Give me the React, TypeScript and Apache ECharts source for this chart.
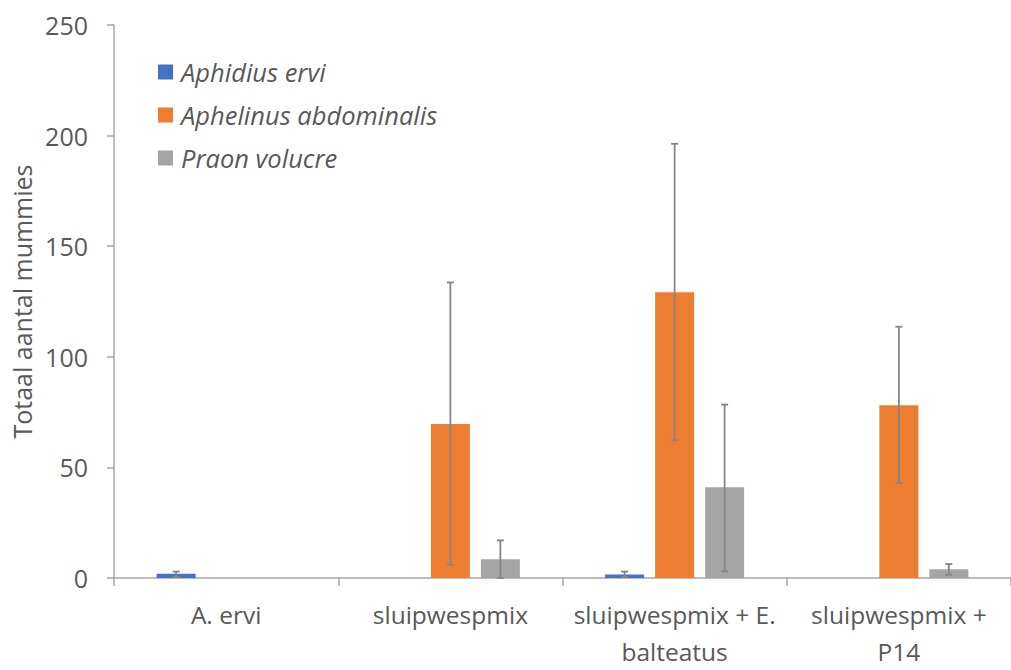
import React, { useEffect, useRef } from "react";
import * as echarts from "echarts";

const categories = ["A. ervi", "sluipwespmix", "sluipwespmix + E.\nbalteatus", "sluipwespmix +\nP14"];
const seriesNames = ["Aphidius ervi", "Aphelinus abdominalis", "Praon volucre"];
const aphidiusErvi = [1.9, 0, 1.6, 0];
const aphelinusAbdominalis = [0, 69.6, 129.2, 78.1];
const praonVolucre = [0, 8.5, 41, 4];
const aphidiusLow = [0.5, null, 0.5, null];
const aphidiusHigh = [2.9, null, 2.9, null];
const aphelinusLow = [null, 6, 62.3, 42.9];
const aphelinusHigh = [null, 133.6, 196.3, 113.6];
const praonLow = [null, 0, 3, 1.5];
const praonHigh = [null, 17, 78.4, 6.3];
const yTicks = [0, 50, 100, 150, 200, 250];

const colors = ["#4472C4", "#ED7D31", "#A5A5A5"];
const BAR_W = 39;
const BAR_GAP = 11;

export default function App() {
  const ref = useRef<HTMLDivElement>(null);
  useEffect(() => {
    if (!ref.current) return;
    const chart = echarts.init(ref.current, null, { renderer: "svg" });
    const values = [aphidiusErvi, aphelinusAbdominalis, praonVolucre];
    const lows = [aphidiusLow, aphelinusLow, praonLow];
    const highs = [aphidiusHigh, aphelinusHigh, praonHigh];
    const font = "'Open Sans', 'Noto Sans', sans-serif";
    const barSeries = seriesNames.map((name, i) => ({
      name,
      type: "bar",
      data: values[i],
      barWidth: BAR_W,
      barGap: ((BAR_GAP / BAR_W) * 100).toFixed(1) + "%",
      itemStyle: { color: colors[i] },
      z: 2,
    }));
    const errSeries = seriesNames.map((name, i) => ({
      name: name + " err",
      type: "custom",
      z: 5,
      data: categories
        .map((_, k) => [k, lows[i][k], highs[i][k]])
        .filter((d) => d[1] !== null && d[2] !== null),
      renderItem: (params: any, api: any) => {
        const k = api.value(0);
        const lo = api.coord([k, api.value(1)]);
        const hi = api.coord([k, api.value(2)]);
        const off = (i - 1) * (BAR_W + BAR_GAP);
        const x = lo[0] + off;
        const cap = 3.5;
        const st = { stroke: "#858585", lineWidth: 1.8 };
        return {
          type: "group",
          children: [
            { type: "line", shape: { x1: x, y1: lo[1], x2: x, y2: hi[1] }, style: st },
            { type: "line", shape: { x1: x - cap, y1: hi[1], x2: x + cap, y2: hi[1] }, style: st },
            { type: "line", shape: { x1: x - cap, y1: lo[1], x2: x + cap, y2: lo[1] }, style: st },
          ],
        };
      },
      encode: { x: 0, y: [1, 2] },
      silent: true,
    }));
    chart.setOption({
      animation: false,
      backgroundColor: "#ffffff",
      textStyle: { fontFamily: font },
      legend: {
        data: seriesNames,
        orient: "vertical",
        left: 158,
        top: 59,
        padding: 0,
        itemWidth: 15,
        itemHeight: 15,
        itemGap: 17,
        icon: "rect",
        textStyle: {
          fontFamily: font,
          fontStyle: "italic",
          fontSize: 25.5,
          lineHeight: 26,
          color: "#595959",
          padding: [0, 0, 0, 3],
        },
      },
      grid: { left: 114, top: 25, width: 908, height: 559, containLabel: false },
      xAxis: {
        type: "category",
        data: categories,
        axisLine: { show: true, lineStyle: { color: "#a6a6a6", width: 1.5 } },
        axisTick: { show: true, length: 8, alignWithLabel: false, lineStyle: { color: "#a6a6a6", width: 1.5 } },
        axisLabel: {
          fontFamily: font,
          fontSize: 24.5,
          color: "#595959",
          margin: 18,
          lineHeight: 37,
          interval: 0,
        },
      },
      yAxis: {
        type: "value",
        min: yTicks[0],
        max: yTicks[yTicks.length - 1],
        interval: 50,
        name: "Totaal aantal mummies",
        nameLocation: "middle",
        nameGap: 77,
        nameTextStyle: { fontFamily: font, fontSize: 25, color: "#595959" },
        splitLine: { show: false },
        axisLine: { show: true, lineStyle: { color: "#a6a6a6", width: 1.5 } },
        axisTick: { show: true, length: 7, lineStyle: { color: "#a6a6a6", width: 1.5 } },
        axisLabel: { fontFamily: font, fontSize: 25, color: "#595959", margin: 26 },
      },
      series: [...barSeries, ...errSeries],
    });
    return () => chart.dispose();
  }, []);
  return (
    <div
      ref={ref}
      style={{ position: "fixed", left: 0, top: 0, width: 1011, height: 670, background: "#fff" }}
    />
  );
}
